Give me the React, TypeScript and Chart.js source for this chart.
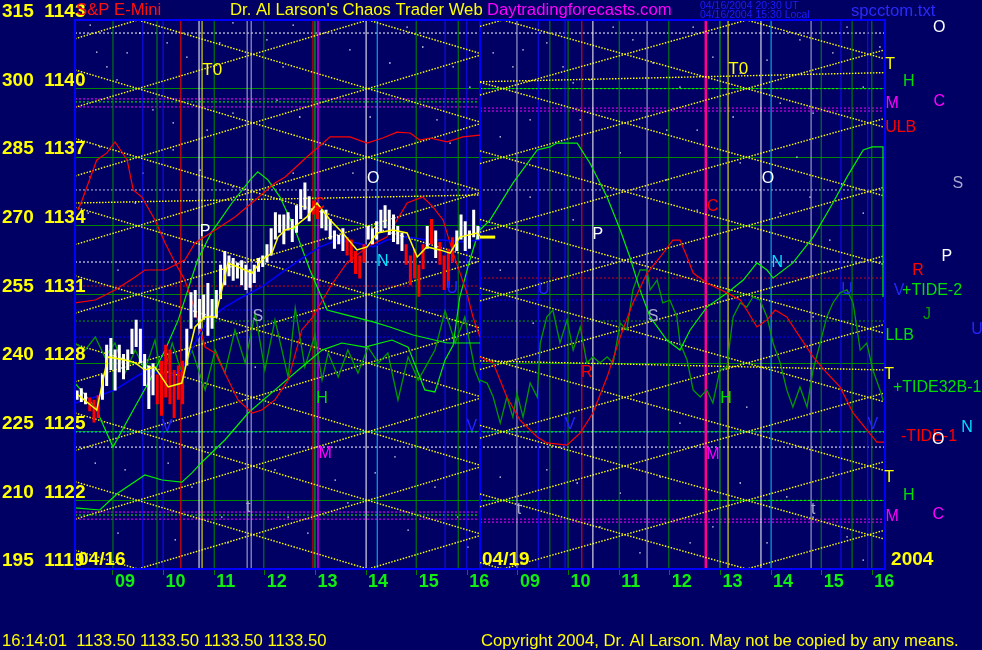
import React, { useEffect, useRef } from 'react';
import { Chart, registerables } from 'chart.js';

Chart.register(...registerables);

const FONT = '"Liberation Sans", Arial, Helvetica, sans-serif';
const BG = '#000064';

// ---------------- axes ----------------
const priceTicks = [1119, 1122, 1125, 1128, 1131, 1134, 1137, 1140, 1143];
const oscTicks = [195, 210, 225, 240, 255, 270, 285, 300, 315];
const hourTicks = [0.75, 1.75, 2.75, 3.75, 4.75, 5.75, 6.75, 7.75, 8.75, 9.75, 10.75, 11.75, 12.75, 13.75, 14.75, 15.75];
const hourLabels = ['09', '10', '11', '12', '13', '14', '15', '16', '09', '10', '11', '12', '13', '14', '15', '16'];
const dayLabels = [
  { text: '04/16', t: 0.06 },
  { text: '04/19', t: 8.04 },
  { text: '2004', t: 16.12 },
];
const dayLabelPrice = 1119.42;

// ---------------- price bars (5-minute, 04/16) ----------------
const barHigh = [
  1126.8, 1126.9, 1126.7, 1126.5, 1126.4, 1126.6, 1127.5, 1128.8, 1129.1, 1128.6,
  1128.8, 1128.4, 1128.6, 1129.5, 1129.9, 1129.5, 1128.4, 1127.9, 1128.0, 1127.5,
  1128.1, 1128.8, 1128.6, 1127.7, 1127.9, 1128.1, 1129.5, 1131.1, 1131.2, 1130.8,
  1131.0, 1131.5, 1130.8, 1131.2, 1132.3, 1132.9, 1132.7, 1132.6, 1132.4, 1132.5,
  1132.3, 1132.1, 1132.3, 1132.6, 1132.7, 1133.2, 1133.9, 1134.6, 1134.5, 1134.5,
  1134.6, 1134.3, 1134.9, 1135.6, 1135.9, 1135.3, 1135.1, 1134.9, 1134.7, 1134.7,
  1134.3, 1133.8, 1133.6, 1133.9, 1133.5, 1133.4, 1132.9, 1132.7, 1133.2, 1134.0,
  1133.9, 1134.2, 1134.7, 1134.9, 1134.7, 1134.5, 1134.0, 1133.7, 1133.2, 1132.7,
  1133.0, 1132.3, 1133.2, 1134.0, 1134.3, 1133.8, 1133.3, 1132.7, 1133.0, 1133.5,
  1133.8, 1134.5, 1134.2, 1133.8, 1134.7, 1134.0,
];
const barLow = [
  1126.4, 1126.3, 1126.2, 1125.9, 1125.4, 1125.6, 1126.4, 1127.0, 1127.7, 1126.8,
  1127.6, 1127.3, 1127.7, 1128.4, 1128.7, 1128.0, 1127.0, 1126.0, 1126.6, 1126.2,
  1125.7, 1126.5, 1126.2, 1125.6, 1126.4, 1126.2, 1127.9, 1129.5, 1130.0, 1129.5,
  1129.9, 1129.2, 1129.5, 1130.0, 1130.8, 1131.4, 1131.8, 1131.6, 1131.7, 1131.4,
  1131.2, 1131.3, 1131.5, 1132.0, 1132.2, 1132.4, 1132.7, 1133.4, 1133.7, 1133.2,
  1133.8, 1133.3, 1133.7, 1134.3, 1134.7, 1134.2, 1134.5, 1134.3, 1133.9, 1133.8,
  1133.4, 1133.0, 1133.2, 1132.9, 1132.7, 1132.4, 1131.9, 1131.7, 1132.4, 1133.4,
  1133.2, 1133.4, 1133.7, 1133.9, 1133.6, 1133.3, 1133.2, 1132.9, 1132.3, 1131.4,
  1131.7, 1130.9, 1132.1, 1133.0, 1133.2, 1132.6, 1132.3, 1131.2, 1131.3, 1132.4,
  1132.9, 1133.4, 1132.9, 1133.0, 1133.5, 1133.4,
];
const barUp = [
  1, 1, 1, 0, 0, 0, 1, 1, 1, 1,
  1, 1, 1, 1, 1, 1, 1, 1, 1, 0,
  0, 0, 0, 0, 0, 0, 1, 1, 1, 1,
  1, 1, 1, 1, 1, 1, 1, 1, 1, 1,
  1, 1, 1, 1, 1, 1, 1, 1, 1, 1,
  1, 1, 1, 1, 1, 1, 0, 0, 1, 1,
  1, 1, 1, 1, 0, 0, 0, 0, 0, 1,
  1, 1, 1, 1, 1, 1, 1, 1, 0, 0,
  0, 0, 0, 1, 0, 1, 0, 0, 0, 0,
  1, 1, 1, 1, 1, 1,
];
const barsPerHour = 12;
const lastMark = [[8.0, 1133.51, 8.3, 1133.51]];

// ---------------- averages (04/16) ----------------
const fastAvgT = [0.06, 0.43, 0.65, 0.99, 1.19, 1.38, 1.58, 1.84, 2.11, 2.23, 2.37, 2.57, 2.77, 2.90, 3.02, 3.22, 3.50, 3.69, 3.89, 4.01, 4.15, 4.31, 4.58, 4.78, 5.04, 5.29, 5.57, 5.77, 5.97, 6.28, 6.56, 6.76, 6.95, 7.21, 7.41, 7.60, 7.94, 8.00];
const fastAvgP = [1126.61, 1125.95, 1128.27, 1128.14, 1128.01, 1127.70, 1127.83, 1126.96, 1127.13, 1128.27, 1129.58, 1130.02, 1130.02, 1131.20, 1132.38, 1132.20, 1131.94, 1132.51, 1132.81, 1133.51, 1133.82, 1133.91, 1134.39, 1135.00, 1134.26, 1133.69, 1132.95, 1133.08, 1133.69, 1133.82, 1133.69, 1132.64, 1133.08, 1132.95, 1132.81, 1133.51, 1133.69, 1133.56];
const slowAvgT = [0, 0.40, 0.79, 1.19, 1.44, 1.84, 2.11, 2.37, 2.63, 2.96, 3.30, 3.69, 4.15, 4.44, 4.84, 5.18, 5.57, 5.89, 6.16, 6.56, 6.95, 7.27, 7.60, 8.00];
const slowAvgP = [1126.26, 1126.52, 1126.83, 1127.39, 1127.70, 1127.39, 1127.70, 1128.88, 1129.89, 1130.45, 1130.89, 1131.33, 1132.07, 1132.51, 1133.08, 1133.38, 1133.25, 1133.08, 1133.38, 1133.51, 1133.38, 1133.38, 1133.29, 1133.38];

// ---------------- forecast curves ----------------
const redA_T = [0.06, 0.14, 0.43, 0.63, 0.79, 1.03, 1.15, 1.32, 1.58, 1.78, 1.98, 2.17, 2.37, 2.57, 2.77, 2.96, 3.22, 3.50, 3.69, 3.95, 4.21, 4.48, 4.70, 5.04, 5.37, 5.77, 6.16, 6.56, 6.87, 7.07, 7.27, 7.47, 7.74, 7.86, 8.00];
const redA_P = [1134.69, 1135.13, 1136.88, 1137.19, 1137.67, 1136.88, 1135.57, 1135.26, 1134.26, 1133.25, 1132.38, 1131.63, 1130.32, 1128.70, 1128.44, 1127.57, 1126.39, 1125.82, 1125.95, 1126.39, 1127.26, 1129.45, 1130.02, 1131.33, 1132.38, 1133.08, 1133.51, 1135.00, 1135.26, 1134.83, 1134.26, 1132.81, 1131.07, 1130.02, 1129.14];
const redB_T = [0, 0.40, 0.79, 1.19, 1.38, 1.78, 2.17, 2.37, 2.77, 3.16, 3.56, 3.95, 4.15, 4.58, 5.04, 5.43, 5.77, 6.08, 6.36, 6.62, 6.81, 7.01, 7.35, 7.66, 8.00];
const redB_P = [1130.63, 1130.76, 1131.20, 1131.77, 1132.07, 1132.07, 1132.51, 1133.25, 1133.82, 1134.39, 1135.13, 1135.87, 1136.14, 1137.01, 1137.89, 1137.89, 1137.62, 1137.84, 1138.10, 1138.06, 1137.75, 1137.84, 1137.67, 1137.89, 1137.97];
const red2_T = [8.00, 8.26, 8.53, 8.79, 9.13, 9.32, 9.72, 9.98, 10.23, 10.51, 10.77, 11.02, 11.30, 11.56, 11.81, 11.95, 12.09, 12.21, 12.48, 12.88, 13.14, 13.27, 13.47, 13.67, 13.83, 14.06, 14.32, 14.58, 14.85, 15.11, 15.37, 15.64, 15.84, 16.00];
const red2_P = [1128.27, 1128.01, 1126.52, 1125.51, 1124.77, 1124.51, 1124.42, 1124.95, 1125.82, 1127.39, 1129.14, 1130.63, 1131.94, 1132.64, 1133.38, 1133.38, 1132.64, 1131.94, 1131.50, 1131.07, 1130.76, 1130.32, 1129.58, 1129.89, 1130.32, 1130.02, 1129.14, 1128.27, 1127.57, 1126.96, 1125.82, 1125.08, 1124.55, 1124.55];

const greenA_T = [0, 0.49, 0.85, 1.38, 1.72, 2.11, 2.31, 2.51, 2.96, 3.42, 3.95, 4.48, 4.88, 5.27, 5.73, 6.26, 6.58, 6.91, 7.11, 7.31, 7.47, 7.60, 7.80, 8.00];
const greenA_P = [1121.67, 1121.58, 1122.32, 1123.11, 1122.89, 1122.80, 1123.20, 1123.68, 1124.64, 1125.82, 1126.83, 1127.83, 1128.57, 1128.88, 1128.70, 1129.01, 1128.70, 1126.83, 1126.74, 1128.14, 1128.79, 1130.89, 1132.51, 1133.95];
const greenB_T = [0, 0.40, 0.75, 1.15, 1.48, 1.78, 2.04, 2.23, 2.42, 2.70, 3.10, 3.46, 3.61, 3.81, 4.05, 4.35, 4.64, 4.98, 5.37, 5.89, 6.22, 6.68, 7.35, 8.00];
const greenB_P = [1127.13, 1126.08, 1124.33, 1125.95, 1127.26, 1128.57, 1129.89, 1131.20, 1132.51, 1133.73, 1135.00, 1136.01, 1136.36, 1136.01, 1135.26, 1133.82, 1132.07, 1130.32, 1130.10, 1129.80, 1129.58, 1129.23, 1128.88, 1128.88];
const green2_T = [8.00, 8.20, 8.65, 9.13, 9.38, 9.52, 9.92, 10.17, 10.51, 10.77, 10.96, 11.16, 11.36, 11.69, 11.95, 12.15, 12.48, 12.88, 13.20, 13.47, 13.67, 13.79, 14.18, 14.58, 14.97, 15.25, 15.57, 15.75, 15.96, 15.96];
const green2_P = [1133.82, 1134.26, 1135.87, 1137.32, 1137.45, 1137.62, 1137.62, 1136.75, 1135.26, 1133.82, 1132.64, 1131.20, 1130.02, 1129.01, 1128.57, 1129.45, 1130.45, 1131.07, 1131.63, 1132.38, 1132.07, 1131.72, 1132.38, 1133.51, 1135.00, 1136.14, 1137.32, 1137.45, 1137.45, 1130.89];

const osc1_T = [0, 0.20, 0.40, 0.59, 0.79, 0.99, 1.19, 1.38, 1.58, 1.72, 1.92, 2.11, 2.31, 2.57, 2.77, 2.96, 3.16, 3.36, 3.56, 3.75, 3.95, 4.21, 4.35, 4.54, 4.74, 4.88, 5.00, 5.20, 5.39, 5.59, 5.79, 5.99, 6.18, 6.38, 6.58, 6.78, 6.97, 7.11, 7.31, 7.51, 7.70, 7.90, 8.00];
const osc1_P = [1128.88, 1128.57, 1129.14, 1128.27, 1128.88, 1127.57, 1128.57, 1127.70, 1129.01, 1127.26, 1128.88, 1127.57, 1128.57, 1126.83, 1128.57, 1127.57, 1129.45, 1128.01, 1130.19, 1127.70, 1129.89, 1127.39, 1130.41, 1127.83, 1129.23, 1127.26, 1128.44, 1127.39, 1128.57, 1127.57, 1128.70, 1128.01, 1128.44, 1126.39, 1128.27, 1127.26, 1128.01, 1128.57, 1130.28, 1128.88, 1130.02, 1127.70, 1127.13];
const osc2_T = [8.00, 8.14, 8.26, 8.40, 8.53, 8.65, 8.73, 8.85, 8.99, 9.13, 9.19, 9.32, 9.44, 9.58, 9.72, 9.84, 9.98, 10.11, 10.23, 10.37, 10.51, 10.63, 10.77, 10.90, 11.02, 11.16, 11.30, 11.36, 11.50, 11.61, 11.75, 11.89, 11.95, 12.09, 12.21, 12.35, 12.48, 12.60, 12.74, 12.88, 12.94, 13.00, 13.14, 13.27, 13.39, 13.53, 13.67, 13.79, 13.93, 14.06, 14.18, 14.32, 14.46, 14.58, 14.72, 14.85, 14.97, 15.11, 15.25, 15.37, 15.51, 15.64, 15.76, 15.90, 15.96];
const osc2_P = [1127.26, 1127.13, 1126.52, 1125.38, 1126.52, 1125.64, 1126.69, 1125.64, 1127.13, 1126.52, 1128.88, 1130.02, 1130.32, 1128.88, 1129.89, 1128.57, 1129.58, 1128.01, 1128.27, 1128.01, 1128.27, 1128.01, 1129.75, 1129.45, 1131.20, 1132.07, 1132.07, 1131.20, 1131.63, 1130.63, 1130.76, 1130.02, 1128.88, 1128.14, 1126.83, 1126.52, 1126.83, 1126.26, 1127.70, 1127.83, 1129.01, 1130.02, 1130.63, 1130.45, 1130.89, 1130.76, 1130.02, 1128.88, 1128.01, 1126.83, 1126.08, 1126.96, 1126.08, 1127.70, 1128.88, 1130.02, 1130.63, 1131.07, 1131.20, 1130.63, 1128.57, 1128.88, 1127.70, 1126.83, 1126.39];

// ---------------- yellow clamp lattice (start price, end price) ----------------
const day1Span = [0, 8];
const day2Span = [8, 16];
const day1Falling = [[1146.82, 1141.54], [1143.82, 1138.54], [1140.82, 1135.54], [1137.82, 1132.54], [1134.82, 1129.54], [1131.82, 1126.54], [1128.82, 1123.54], [1125.82, 1120.54], [1122.82, 1117.54], [1119.82, 1114.54]];
const day1Rising = [[1142.18, 1147.46], [1139.18, 1144.46], [1136.18, 1141.46], [1133.18, 1138.46], [1130.18, 1135.46], [1127.18, 1132.46], [1124.18, 1129.46], [1121.18, 1126.46], [1118.18, 1123.46], [1115.18, 1120.46]];
const day2Falling = [[1146.28, 1141.30], [1143.28, 1138.30], [1140.28, 1135.30], [1137.28, 1132.30], [1134.28, 1129.30], [1131.28, 1126.30], [1128.28, 1123.30], [1125.28, 1120.30], [1122.28, 1117.30], [1119.28, 1114.30]];
const day2Rising = [[1142.72, 1147.70], [1139.72, 1144.70], [1136.72, 1141.70], [1133.72, 1138.70], [1130.72, 1135.70], [1127.72, 1132.70], [1124.72, 1129.70], [1121.72, 1126.70], [1118.72, 1123.70], [1115.72, 1120.70]];
const flatYellow = [[0, 1135.0, 8, 1135.35], [8, 1140.3, 16, 1140.7], [8, 1128.1, 16, 1127.7]];

// ---------------- horizontal levels [price, from, to] ----------------
const hWhite = [[1142.43, 0, 16], [1132.42, 0, 16], [1124.33, 0, 16]];
const hLavender = [[1135.57, 0, 16]];
const hMagenta = [[1139.55, 0, 8], [1139.20, 0, 8], [1139.15, 8, 16], [1139.02, 8, 16], [1121.49, 0, 8], [1121.18, 0, 8], [1121.18, 8, 16], [1121.05, 8, 16]];
const hGreen = [[1139.42, 0, 8], [1121.36, 0, 8], [1140.0, 8, 16], [1122.0, 8, 16]];
const hDarkGreen = [[1129.84, 0, 16]];
const hRed = [[1131.37, 0, 8], [1131.72, 8, 16]];
const hBlue = [[1130.32, 0, 8], [1129.14, 0, 16], [1130.76, 8, 16]];
const hCyan = [[1124.99, 0, 16]];

// ---------------- vertical time lines (hours from 08:15) ----------------
const vGreen = [0.75, 1.62, 2.75, 3.73, 6.74, 7.57, 9.38, 9.74, 10.75, 11.73, 14.74, 15.35, 15.74];
const vBrightGreen = [4.74, 12.74];
const vBlue = [1.34, 1.74, 7.31, 7.74, 9.15, 9.68, 15.13, 15.66];
const vRed = [2.09, 4.70, 10.01];
const vWhite = [2.45, 5.75, 10.23, 13.55];
const vLavender = [3.40, 3.48, 8.73, 11.30, 14.54];
const vYellow = [2.51, 12.90];
const vCyan = [5.97, 13.75];
const vMagenta = [4.80];
const vPink = [12.46];
const daySplit = [8];

// ---------------- star field ----------------
const stars = [
  [8.26, 1141.56], [8.65, 1140.95], [8.85, 1141.69], [9.32, 1142.0], [9.64, 1140.95], [9.84, 1140.25], [10.17, 1140.38], [10.63, 1142.69], [11.02, 1142.13], [11.42, 1141.12],
  [11.95, 1140.07], [12.21, 1142.69], [12.60, 1141.38], [13.14, 1140.68], [13.67, 1141.25], [13.93, 1139.37], [14.32, 1142.13], [14.58, 1138.93], [14.97, 1141.56], [15.25, 1142.69],
  [15.57, 1140.07], [15.90, 1141.82], [11.69, 1138.19], [12.29, 1138.19], [13.00, 1138.76], [9.98, 1138.63], [8.99, 1138.63], [8.40, 1137.89], [10.77, 1137.19], [14.26, 1137.01],
  [0.30, 1142.78], [0.43, 1141.60], [0.63, 1140.95], [1.03, 1141.56], [1.28, 1142.43], [1.82, 1142.0], [2.21, 1141.38], [2.86, 1142.0], [3.12, 1142.87], [3.79, 1142.13],
  [4.11, 1140.95], [4.31, 1142.78], [0.10, 1140.25], [0.83, 1140.38], [1.54, 1139.07], [1.94, 1138.50], [2.61, 1138.19], [3.12, 1138.93], [3.99, 1139.50], [4.44, 1138.76],
  [0.30, 1136.14], [0.49, 1137.45], [1.34, 1136.31], [1.94, 1137.32], [2.47, 1136.44], [3.12, 1135.70], [4.31, 1136.31], [5.43, 1141.69], [5.83, 1138.76], [6.22, 1141.12],
  [6.56, 1142.69], [6.87, 1141.82], [7.15, 1138.63], [7.47, 1140.95], [7.80, 1140.07], [7.41, 1137.62], [6.48, 1136.57], [5.49, 1136.31], [0.40, 1123.63], [0.99, 1123.33],
  [1.84, 1123.63], [2.31, 1122.58], [2.90, 1121.27], [3.02, 1120.14], [3.95, 1123.33], [4.21, 1121.27], [4.60, 1120.57], [5.14, 1122.89], [5.39, 1121.89], [5.93, 1123.20],
  [6.32, 1123.90], [6.58, 1120.70], [7.11, 1122.58], [7.56, 1121.27], [7.76, 1119.96], [1.98, 1120.27], [0.85, 1120.57], [8.40, 1123.02], [9.32, 1123.33], [9.92, 1122.76],
  [10.37, 1120.84], [10.77, 1122.32], [11.16, 1119.70], [11.56, 1123.02], [12.15, 1120.14], [12.60, 1120.84], [13.14, 1122.76], [13.67, 1120.14], [14.06, 1122.15], [14.97, 1123.20],
  [15.25, 1120.40], [15.57, 1119.39], [14.58, 1121.27], [8.99, 1135.26], [9.84, 1134.26], [10.82, 1135.57], [11.69, 1136.01], [12.29, 1134.69], [13.14, 1136.75], [13.93, 1134.56],
  [14.52, 1135.26], [14.91, 1133.38], [15.57, 1134.56], [8.40, 1132.07], [9.05, 1129.75], [14.58, 1130.02], [11.95, 1125.38], [13.27, 1126.08], [14.91, 1125.08], [0.85, 1132.07],
  [1.19, 1135.0], [0.26, 1134.56], [3.56, 1127.83],
];

// ---------------- text markers ----------------
const plotMarkers = [
  { text: 'T0', t: 2.71, p: 1140.81, c: 'yellow' },
  { text: 'O', t: 5.89, p: 1136.05, c: 'white' },
  { text: 'P', t: 2.57, p: 1133.73, c: 'white' },
  { text: 'N', t: 6.08, p: 1132.42, c: 'cyan' },
  { text: 'S', t: 3.61, p: 1130.02, c: 'gray' },
  { text: 'H', t: 4.88, p: 1126.43, c: 'green' },
  { text: 'M', t: 4.94, p: 1124.03, c: 'magenta' },
  { text: 'C', t: 4.82, p: 1134.91, c: 'red' },
  { text: 't', t: 3.42, p: 1121.67, c: 'gray' },
  { text: 'U', t: 7.45, p: 1131.28, c: 'blue' },
  { text: 'V', t: 1.82, p: 1125.21, c: 'blue' },
  { text: 'V', t: 7.84, p: 1125.21, c: 'blue' },
  { text: 'T0', t: 13.10, p: 1140.86, c: 'yellow' },
  { text: 'O', t: 13.69, p: 1136.05, c: 'white' },
  { text: 'P', t: 10.33, p: 1133.64, c: 'white' },
  { text: 'N', t: 13.87, p: 1132.38, c: 'cyan' },
  { text: 'S', t: 11.42, p: 1130.02, c: 'gray' },
  { text: 'H', t: 12.86, p: 1126.43, c: 'green' },
  { text: 'M', t: 12.60, p: 1124.0, c: 'magenta' },
  { text: 'C', t: 12.60, p: 1134.83, c: 'red' },
  { text: 'R', t: 10.11, p: 1127.57, c: 'red' },
  { text: 'U', t: 9.26, p: 1131.20, c: 'blue' },
  { text: 'U', t: 15.25, p: 1131.20, c: 'blue' },
  { text: 'V', t: 9.78, p: 1125.30, c: 'blue' },
  { text: 'V', t: 15.76, p: 1125.30, c: 'blue' },
  { text: 't', t: 8.77, p: 1121.58, c: 'gray' },
  { text: 't', t: 14.58, p: 1121.58, c: 'gray' },
];
const sideMarkers = [
  { text: 'O', t: 17.07, p: 1142.65, c: 'white' },
  { text: 'T', t: 16.10, p: 1141.03, c: 'yellow' },
  { text: 'H', t: 16.47, p: 1140.29, c: 'green' },
  { text: 'M', t: 16.14, p: 1139.33, c: 'magenta' },
  { text: 'C', t: 17.07, p: 1139.42, c: 'magenta' },
  { text: 'ULB', t: 16.31, p: 1138.28, c: 'red' },
  { text: 'S', t: 17.44, p: 1135.87, c: 'gray' },
  { text: 'P', t: 17.22, p: 1132.64, c: 'white' },
  { text: 'R', t: 16.65, p: 1132.03, c: 'red' },
  { text: 'V', t: 16.28, p: 1131.15, c: 'blue' },
  { text: '+TIDE-2', t: 16.93, p: 1131.15, c: 'green' },
  { text: 'J', t: 16.83, p: 1130.10, c: 'dkgreen' },
  { text: 'U', t: 17.82, p: 1129.45, c: 'blue' },
  { text: 'LLB', t: 16.29, p: 1129.19, c: 'green' },
  { text: 'T', t: 16.08, p: 1127.48, c: 'yellow' },
  { text: '+TIDE32B-1', t: 17.03, p: 1126.91, c: 'green' },
  { text: 'N', t: 17.62, p: 1125.20, c: 'cyan' },
  { text: '-TIDE-1', t: 16.87, p: 1124.77, c: 'red' },
  { text: 'O', t: 17.05, p: 1124.64, c: 'white' },
  { text: 'T', t: 16.08, p: 1122.98, c: 'yellow' },
  { text: 'H', t: 16.47, p: 1122.23, c: 'green' },
  { text: 'M', t: 16.14, p: 1121.27, c: 'magenta' },
  { text: 'C', t: 17.05, p: 1121.40, c: 'magenta' },
];

const headerParts = [
  { text: 'S&P E-Mini', color: '#ff1010' },
  { text: "Dr. Al Larson's Chaos Trader Web", color: '#ffff00' },
  { text: 'Daytradingforecasts.com', color: '#ff00ff' },
];
const stampLines = ['04/16/2004 20:30 UT', '04/16/2004 15:30 Local'];
const fileName = 'spcctom.txt';
const lastQuote = '16:14:01  1133.50 1133.50 1133.50 1133.50';
const copyright = 'Copyright 2004, Dr. Al Larson. May not be copied by any means.';

const PALETTE: Record<string, string> = {
  yellow: '#ffff00', white: '#ffffff', cyan: '#00e0ff', gray: '#a8a8cc', green: '#00e000',
  dkgreen: '#00a000', magenta: '#ff00ff', red: '#ff0000', blue: '#2424ff',
};

// ---------------- helpers ----------------
type Pt = { x: number; y: number | null };
const poly = (xs: number[], ys: number[]): Pt[] => xs.map((x, i) => ({ x, y: ys[i] }));
const segs = (list: number[][]): Pt[] => {
  const out: Pt[] = [];
  for (const [x1, y1, x2, y2] of list) {
    out.push({ x: x1, y: y1 }, { x: x2, y: y2 }, { x: x2, y: null });
  }
  return out;
};
const verticals = (xs: number[]) => segs(xs.map((x) => [x, 1118.8, x, 1143.2]));
const levels = (list: number[][]) => segs(list.map(([p, a, b]) => [a, p, b, p]));
const lattice = (pairs: number[][], span: number[]) => segs(pairs.map(([s, e]) => [span[0], s, span[1], e]));

const lineDs = (data: Pt[], color: string, width: number, dash: number[] = []) => ({
  type: 'line' as const,
  data,
  borderColor: color,
  backgroundColor: color,
  borderWidth: width,
  borderDash: dash,
  borderCapStyle: 'butt' as const,
  pointRadius: 0,
  pointHoverRadius: 0,
  fill: false,
  tension: 0,
  spanGaps: false,
});

function buildDatasets() {
  const whiteBars: Pt[] = [];
  const redBars: Pt[] = [];
  barHigh.forEach((hi, i) => {
    const t = (i + 0.5) / barsPerHour;
    const target = barUp[i] ? whiteBars : redBars;
    target.push({ x: t, y: barLow[i] }, { x: t, y: hi }, { x: t, y: null });
  });

  const latticeDash = [1.5, 1.5];
  const bottomToTop: any[] = [
    {
      type: 'scatter' as const,
      data: stars.map(([x, y]) => ({ x, y })),
      pointStyle: 'rect',
      pointRadius: 0.9,
      pointBorderWidth: 0,
      borderWidth: 0,
      backgroundColor: '#ffffff',
      showLine: false,
    },
    lineDs(levels(hWhite), '#ffffff', 1, [2, 2]),
    lineDs(levels(hLavender), '#b8b8e0', 1, [2, 2]),
    lineDs(levels(hDarkGreen), '#00a000', 1, [2, 2]),
    lineDs(levels(hRed), '#e00000', 1, [2, 2]),
    lineDs(levels(hBlue), '#0000ff', 1, [2, 2]),
    lineDs(levels(hCyan), '#00e0ff', 1, [2, 2]),
    lineDs(levels(hMagenta), '#ff00ff', 1, [2, 2]),
    lineDs(levels(hGreen), '#00ff00', 1, [2, 2]),
    lineDs(verticals(vGreen), '#008c00', 1),
    lineDs(verticals(vBrightGreen), '#00d000', 1),
    lineDs(verticals(vBlue), '#1010ff', 1),
    lineDs(verticals(vRed), '#e00000', 1.2),
    lineDs(verticals(vWhite), '#ffffff', 1),
    lineDs(verticals(vLavender), '#b4b4dc', 1),
    lineDs(verticals(vYellow), '#ffff00', 1),
    lineDs(verticals(vCyan), '#00c8ff', 1),
    lineDs(verticals(vMagenta), '#ff00ff', 1.2),
    lineDs(verticals(vPink), '#ff0090', 2.5),
    lineDs(verticals(daySplit), '#0000ff', 2),
    lineDs(lattice(day1Falling, day1Span), '#ffff00', 1.4, latticeDash),
    lineDs(lattice(day1Rising, day1Span), '#ffff00', 1.4, latticeDash),
    lineDs(lattice(day2Falling, day2Span), '#ffff00', 1.4, latticeDash),
    lineDs(lattice(day2Rising, day2Span), '#ffff00', 1.4, latticeDash),
    lineDs(segs(flatYellow), '#ffff00', 1.4, latticeDash),
    lineDs(poly(osc1_T, osc1_P), '#009a00', 1.3),
    lineDs(poly(osc2_T, osc2_P), '#009a00', 1.3),
    lineDs(poly(greenA_T, greenA_P), '#00f000', 1.2),
    lineDs(poly(greenB_T, greenB_P), '#00f000', 1.2),
    lineDs(poly(green2_T, green2_P), '#00f000', 1.2),
    lineDs(poly(redA_T, redA_P), '#ff0000', 1.2),
    lineDs(poly(redB_T, redB_P), '#ff0000', 1.2),
    lineDs(poly(red2_T, red2_P), '#ff0000', 1.2),
    lineDs(poly(slowAvgT, slowAvgP), '#0000ff', 1.5),
    lineDs(whiteBars, '#ffffff', 3),
    lineDs(redBars, '#ff0000', 3),
    lineDs(poly(fastAvgT, fastAvgP), '#ffff00', 1.5),
    lineDs(segs(lastMark), '#ffff00', 3),
  ];
  const n = bottomToTop.length;
  return bottomToTop.map((d, i) => ({ ...d, order: n - i }));
}

const bgPlugin = {
  id: 'navyBackground',
  beforeDraw(chart: any) {
    const { ctx, width, height } = chart;
    ctx.save();
    ctx.fillStyle = BG;
    ctx.fillRect(0, 0, width, height);
    ctx.restore();
  },
};

const overlayPlugin = {
  id: 'overlayTexts',
  afterDraw(chart: any) {
    const { ctx, chartArea: a, scales } = chart;
    const xs = scales.x;
    const ys = scales.y;
    ctx.save();
    // plot frame
    ctx.strokeStyle = '#0000ff';
    ctx.lineWidth = 2;
    ctx.strokeRect(a.left, a.top, a.right - a.left, a.bottom - a.top);

    // markers inside and beside the plot
    ctx.textAlign = 'center';
    ctx.textBaseline = 'middle';
    for (const m of [...plotMarkers, ...sideMarkers]) {
      ctx.font = `${m.text === 'T0' ? 17 : 16}px ${FONT}`;
      ctx.fillStyle = PALETTE[m.c];
      ctx.fillText(m.text, xs.getPixelForValue(m.t), ys.getPixelForValue(m.p));
    }

    // day labels
    ctx.textAlign = 'left';
    ctx.font = `bold 19px ${FONT}`;
    ctx.fillStyle = '#ffff00';
    for (const d of dayLabels) {
      ctx.fillText(d.text, xs.getPixelForValue(d.t), ys.getPixelForValue(dayLabelPrice));
    }

    // header
    ctx.font = `16.7px ${FONT}`;
    const headerY = a.top - 10;
    const headerX = [a.left + 1, a.left + 155, a.left + 412];
    headerParts.forEach((h, i) => {
      ctx.fillStyle = h.color;
      ctx.fillText(h.text, headerX[i], headerY);
    });
    ctx.font = `10.5px ${FONT}`;
    ctx.fillStyle = '#1c1cff';
    ctx.fillText(stampLines[0], 700, 6);
    ctx.fillText(stampLines[1], 700, 15);
    ctx.font = `16.7px ${FONT}`;
    ctx.fillStyle = '#2a2aff';
    ctx.fillText(fileName, 851, 11);

    // footer
    ctx.fillStyle = '#ffff00';
    ctx.fillText(lastQuote, 2, 641);
    ctx.fillText(copyright, 481, 641);
    ctx.restore();
  },
};

export default function App() {
  const ref = useRef<HTMLCanvasElement>(null);

  useEffect(() => {
    const canvas = ref.current;
    if (!canvas) return;
    const chart = new Chart(canvas, {
      type: 'line',
      data: { datasets: buildDatasets() as any },
      options: {
        responsive: false,
        animation: false,
        devicePixelRatio: 1,
        events: [],
        layout: { autoPadding: false, padding: { left: 2, top: 20, right: 97, bottom: 0 } },
        plugins: {
          legend: { display: false },
          tooltip: { enabled: false },
          title: { display: false },
        },
        scales: {
          x: {
            type: 'linear',
            position: 'bottom',
            min: 0,
            max: 16,
            afterFit: (s: any) => { s.height = 81; },
            afterBuildTicks: (s: any) => { s.ticks = hourTicks.map((v) => ({ value: v })); },
            grid: { drawOnChartArea: false, color: '#008000', tickLength: 6, drawTicks: true },
            border: { display: false },
            ticks: {
              autoSkip: false,
              maxRotation: 0,
              minRotation: 0,
              align: 'start',
              labelOffset: 2,
              padding: -2,
              color: '#10ee10',
              font: { family: FONT, size: 18, weight: 'bold', lineHeight: 1 },
              callback: (_v: any, i: number) => hourLabels[i],
            },
          },
          y: {
            type: 'linear',
            position: 'left',
            min: 1119,
            max: 1143,
            afterFit: (s: any) => { s.width = 73; },
            afterBuildTicks: (s: any) => { s.ticks = priceTicks.map((v) => ({ value: v })); },
            grid: { color: '#008800', drawTicks: false, lineWidth: 1 },
            border: { display: false },
            ticks: {
              z: 1,
              mirror: true,
              crossAlign: 'near',
              labelOffset: -8,
              padding: -73,
              color: '#ffff00',
              font: { family: FONT, size: 19, weight: 'bold', lineHeight: 1 },
              callback: (_v: any, i: number) => `${oscTicks[i]}  ${priceTicks[i]}`,
            },
          },
        },
      } as any,
      plugins: [bgPlugin, overlayPlugin],
    });
    return () => chart.destroy();
  }, []);

  return (
    <div style={{ position: 'fixed', left: 0, top: 0, width: 982, height: 650, background: BG }}>
      <canvas ref={ref} width={982} height={650} style={{ display: 'block', width: 982, height: 650 }} />
    </div>
  );
}
